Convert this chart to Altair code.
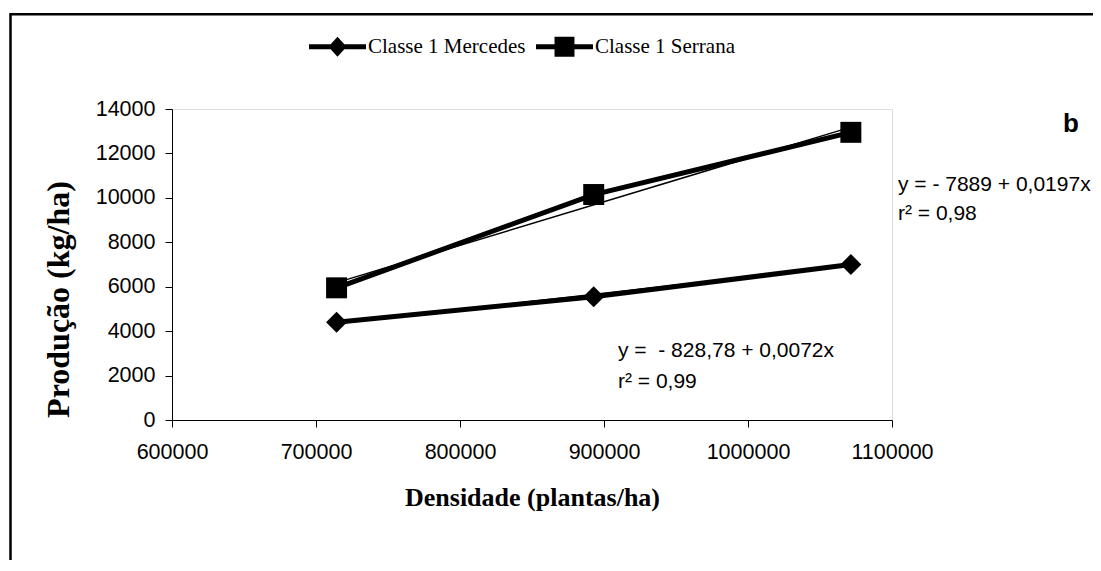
import altair as alt
import pandas as pd

# ---- data ----
densidade = [714286, 892857, 1071428]
mercedes = [4400, 5550, 7000]
serrana = [5950, 10150, 12950]
series = ["Classe 1 Mercedes", "Classe 1 Serrana"]
x_ticks = [600000, 700000, 800000, 900000, 1000000, 1100000]
y_ticks = [0, 2000, 4000, 6000, 8000, 10000, 12000, 14000]
eq_serrana = ["y = - 7889 + 0,0197x", "r\u00b2 = 0,98"]
eq_mercedes = ["y = \u00a0- 828,78 + 0,0072x", "r\u00b2 = 0,99"]
panel_letter = "b"

df = pd.DataFrame({
    "densidade": densidade * 2,
    "producao": mercedes + serrana,
    "serie": [series[0]] * 3 + [series[1]] * 3,
})

SANS = "Liberation Sans"
SERIF = "Liberation Serif"

x_enc = alt.X(
    "densidade:Q",
    scale=alt.Scale(domain=[x_ticks[0], x_ticks[-1]], nice=False, zero=False),
    axis=alt.Axis(values=x_ticks, format="d", title="Densidade (plantas/ha)",
                  titleY=77, titleX=360, titleBaseline="middle", titleFontSize=26,
                  labelPadding=14, labelFlush=False),
)
y_enc = alt.Y(
    "producao:Q",
    scale=alt.Scale(domain=[y_ticks[0], y_ticks[-1]], nice=False),
    axis=alt.Axis(values=y_ticks, format="d", title="Produção (kg/ha)",
                  titleX=-114, titleY=190, titleBaseline="middle", titleAlign="center",
                  titleFontSize=32, labelPadding=10, labelFlush=False),
)

base = alt.Chart(df)

lines = base.mark_line(color="black", strokeWidth=5).encode(
    x=x_enc, y=y_enc, detail="serie:N"
)

trend = base.transform_regression(
    "densidade", "producao", groupby=["serie"], extent=[densidade[0], densidade[-1]]
).mark_line(color="black", strokeWidth=1.5).encode(
    x="densidade:Q", y="producao:Q", detail="serie:N"
)

points = base.mark_point(filled=True, color="black", opacity=1, size=440).encode(
    x="densidade:Q",
    y="producao:Q",
    shape=alt.Shape("serie:N", scale=alt.Scale(domain=series, range=["diamond", "square"]),
                    legend=None),
)

# legend-only layer (no data rows), symbols = line + marker
diamond_leg = "M-1,-0.09L1,-0.09L1,0.09L-1,0.09Z M0,-0.35L0.32,0L0,0.35L-0.32,0Z"
square_leg = "M-1,-0.09L1,-0.09L1,0.09L-1,0.09Z M-0.35,-0.35L0.35,-0.35L0.35,0.35L-0.35,0.35Z"
legend_layer = base.transform_filter("false").mark_point(
    filled=True, color="black", opacity=1
).encode(
    x="densidade:Q",
    y="producao:Q",
    shape=alt.Shape(
        "serie:N",
        scale=alt.Scale(domain=series, range=[diamond_leg, square_leg]),
        legend=alt.Legend(
            title=None, orient="none", direction="horizontal",
            legendX=137, legendY=-91, padding=0,
            symbolSize=3249, labelOffset=2, columnPadding=10,
            labelFont=SERIF, labelFontSize=21, labelColor="black", labelLimit=400,
            symbolFillColor="black", symbolStrokeColor="black", symbolStrokeWidth=0,
            symbolOpacity=1,
        ),
    ),
)

def txt(s, x, y, size=21, weight="normal", font=SANS):
    return alt.Chart(pd.DataFrame({"t": [s]})).mark_text(
        font=font, fontSize=size, fontWeight=weight, align="left",
        baseline="alphabetic", color="black"
    ).encode(text="t:N", x=alt.value(x), y=alt.value(y))

frame = alt.Chart(pd.DataFrame({"k": [0]})).mark_rect(
    fillOpacity=0, stroke="black", strokeWidth=2.5
).encode(x=alt.value(-161.5), x2=alt.value(3000), y=alt.value(-94.7), y2=alt.value(3000))

chart = alt.layer(
    frame,
    trend, lines, points, legend_layer,
    txt(eq_serrana[0], 726, 82), txt(eq_serrana[1], 726, 111),
    txt(eq_mercedes[0], 446, 248), txt(eq_mercedes[1], 446, 279),
    txt(panel_letter, 891, 23, size=26, weight="bold"),
).resolve_scale(shape="independent").properties(
    width=720, height=311,
    padding={"left": 164, "top": 101, "right": 201, "bottom": 140},
    autosize=alt.AutoSizeParams(type="none"),
).configure_view(stroke=None).configure(background="white").configure_axis(
    grid=False, domainColor="black", tickColor="black", tickSize=7,
    labelColor="black", labelFont=SANS, labelFontSize=21.5,
    titleColor="black", titleFont=SERIF, titleFontWeight="bold",
)

chart.save("out.html", embed_options={"renderer": "svg", "actions": False})
